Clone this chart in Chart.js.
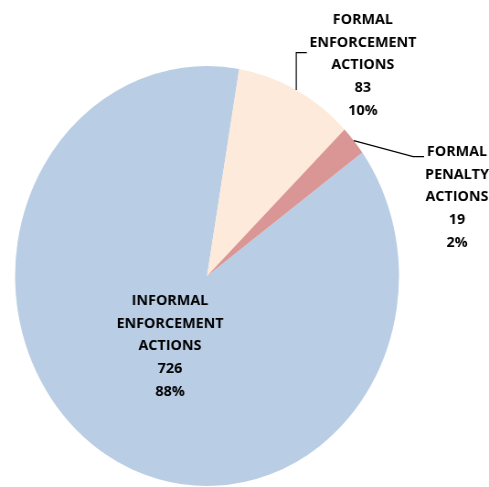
<!DOCTYPE html>
<html>
<head>
<meta charset="utf-8">
<script src="https://cdn.jsdelivr.net/npm/chart.js@4.4.1/dist/chart.umd.min.js"></script>
<style>
    html, body { margin: 0; padding: 0; background: #ffffff; overflow: hidden; }
    /* el gráfico original está algo comprimido en horizontal */
    #wrap { position: absolute; left: 0; top: 0; width: 535px; height: 487px; transform: scaleX(0.914); transform-origin: 0 0; }
</style>
</head>
<body>
<div id="wrap"><canvas id="pieChart"></canvas></div>
<script>
// Datos del gráfico
const categorias = [
    ['INFORMAL', 'ENFORCEMENT', 'ACTIONS'],
    ['FORMAL', 'ENFORCEMENT', 'ACTIONS'],
    ['FORMAL', 'PENALTY', 'ACTIONS']
];
const valores = [726, 83, 19];
const porcentajes = ['88%', '10%', '2%'];
const colores = ['#B9CDE5', '#FDEADA', '#D99694'];

// Posición de cada etiqueta (centro x, y de la primera línea) y si lleva línea guía
const etiquetas = [
    { x: 186, y: 301, guia: false },
    { x: 397, y: 20, guia: true },
    { x: 500, y: 152, guia: true }
];

const FUENTE = 'bold 14px "Open Sans"';
const INTERLINEA = 22.7;
const ESTIRAR = 1.12;

const pluginEtiquetas = {
    id: 'etiquetas',
    afterDraw(chart) {
        const ctx = chart.ctx;
        const arcos = chart.getDatasetMeta(0).data;
        ctx.save();
        arcos.forEach((arco, i) => {
            const et = etiquetas[i];
            const lineas = categorias[i].concat([String(valores[i]), porcentajes[i]]);

            // Línea guía desde el borde del sector
            if (et.guia) {
                const p = arco.getProps(['x', 'y', 'startAngle', 'endAngle', 'outerRadius'], true);
                const medio = (p.startAngle + p.endAngle) / 2;
                const x0 = p.x + Math.cos(medio) * p.outerRadius;
                const y0 = p.y + Math.sin(medio) * p.outerRadius;
                ctx.strokeStyle = '#000000';
                ctx.lineWidth = 1.2;
                ctx.beginPath();
                ctx.moveTo(x0, y0);
                if (i === 1) {
                    ctx.lineTo(x0, 52.7);
                    ctx.lineTo(x0 + 11.6, 52.7);
                } else {
                    ctx.lineTo(452, 156.7);
                    ctx.lineTo(464, 156.7);
                }
                ctx.stroke();
            }

            ctx.fillStyle = '#000000';
            ctx.font = FUENTE;
            ctx.textAlign = 'center';
            ctx.textBaseline = 'middle';
            lineas.forEach((texto, j) => {
                ctx.save();
                ctx.translate(et.x, et.y + j * INTERLINEA);
                ctx.scale(ESTIRAR, 1);
                ctx.fillText(texto, 0, 0);
                ctx.restore();
            });
        });
        ctx.restore();
    }
};

new Chart(document.getElementById('pieChart'), {
    type: 'pie',
    data: {
        labels: categorias.map(c => c.join(' ')),
        datasets: [{
            data: valores,
            backgroundColor: colores,
            borderWidth: 0
        }]
    },
    options: {
        responsive: true,
        maintainAspectRatio: false,
        animation: false,
        rotation: 54,
        layout: {
            padding: { left: 16.5, right: 98.5, top: 66, bottom: 1 }
        },
        plugins: {
            legend: { display: false },
            tooltip: { enabled: false }
        }
    },
    plugins: [pluginEtiquetas]
});
</script>
</body>
</html>
